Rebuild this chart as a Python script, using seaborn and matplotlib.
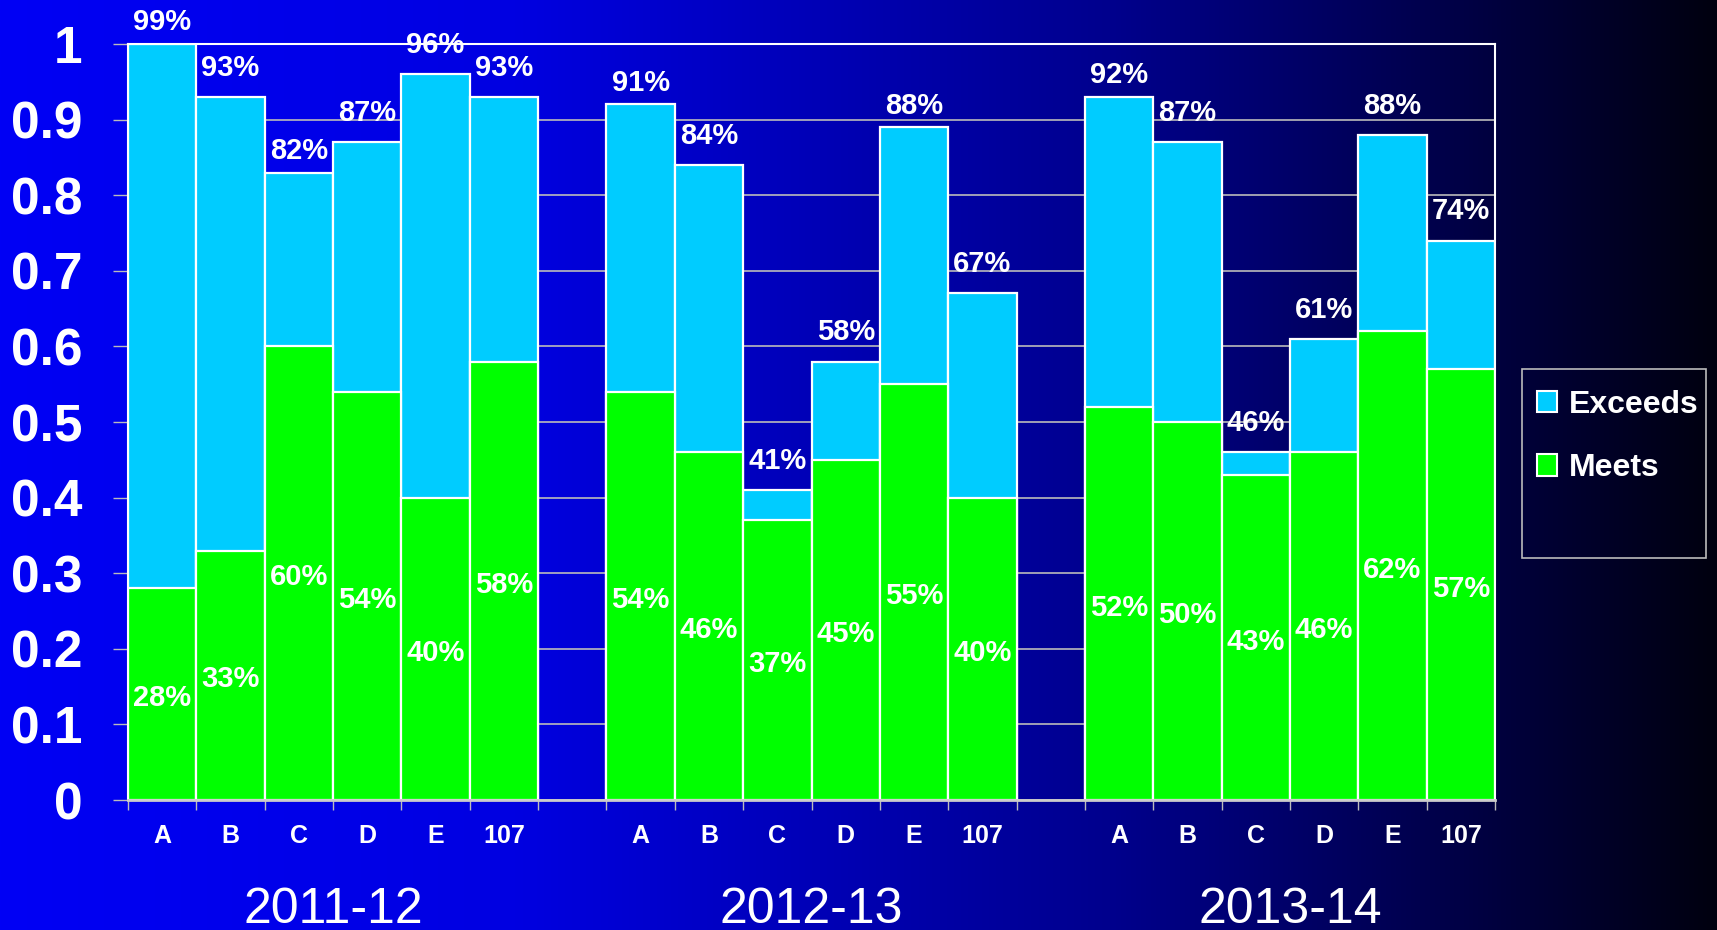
import numpy as np
import pandas as pd
import matplotlib
matplotlib.use("Agg")
import matplotlib.pyplot as plt
import seaborn as sns
from matplotlib import transforms
from matplotlib.patches import Patch, Rectangle

plt.rcParams["font.family"] = ["Liberation Sans", "DejaVu Sans"]

years = ["2011-12", "2012-13", "2013-14"]
schools = ["A", "B", "C", "D", "E", "107"]

meets_1112 = [0.28, 0.33, 0.60, 0.54, 0.40, 0.58]
exceeds_1112 = [0.72, 0.60, 0.23, 0.33, 0.56, 0.35]
totals_1112 = ["99%", "93%", "82%", "87%", "96%", "93%"]

meets_1213 = [0.54, 0.46, 0.37, 0.45, 0.55, 0.40]
exceeds_1213 = [0.38, 0.38, 0.04, 0.13, 0.34, 0.27]
totals_1213 = ["91%", "84%", "41%", "58%", "88%", "67%"]

meets_1314 = [0.52, 0.50, 0.43, 0.46, 0.62, 0.57]
exceeds_1314 = [0.41, 0.37, 0.03, 0.15, 0.26, 0.17]
totals_1314 = ["92%", "87%", "46%", "61%", "88%", "74%"]

CYAN = "#00CCFF"
GREEN = "#00FF00"
W, H = 1717, 930

# one empty slot between year groups
rows = []
groups = [(meets_1112, exceeds_1112, totals_1112),
          (meets_1213, exceeds_1213, totals_1213),
          (meets_1314, exceeds_1314, totals_1314)]
for g, (m, e, t) in enumerate(groups):
    for i, s in enumerate(schools):
        rows.append({"pos": g * 7 + i, "school": s, "year": years[g],
                     "meets": m[i], "total": m[i] + e[i], "total_label": t[i]})
df = pd.DataFrame(rows)

fig = plt.figure(figsize=(W / 100, H / 100), dpi=100)

# horizontal blue -> navy gradient background
bg = fig.add_axes([0, 0, 1, 1], zorder=-10)
xs = np.linspace(0, 1, 800)
grad = np.zeros((2, len(xs), 3))
grad[..., 2] = np.interp(xs, [0, 0.3, 0.65, 0.85, 1.0], [245, 225, 140, 70, 15]) / 255
bg.imshow(grad, aspect="auto", extent=[0, 1, 0, 1])
bg.axis("off")

ax = fig.add_axes([128 / W, 1 - 800 / H, (1495 - 128) / W, (800 - 44) / H])
ax.set_facecolor("none")

sns.barplot(data=df, x="pos", y="total", native_scale=True, width=1, color=CYAN,
            saturation=1, edgecolor="white", linewidth=1.6, errorbar=None, ax=ax)
sns.barplot(data=df, x="pos", y="meets", native_scale=True, width=1, color=GREEN,
            saturation=1, edgecolor="white", linewidth=1.6, errorbar=None, ax=ax)

ax.set_xlim(-0.5, 19.5)
ax.set_ylim(0, 1)
ax.set_xlabel("")
ax.set_ylabel("")

yt = np.round(np.arange(0, 1.01, 0.1), 1)
ax.set_yticks(yt)
ax.set_yticklabels([f"{v:g}" for v in yt], fontsize=37, fontweight="bold", color="white")
ax.tick_params(axis="y", length=11, width=1, color="#BBBBBB", pad=22)

ax.set_xticks(df["pos"])
ax.set_xticklabels(df["school"], fontsize=18, fontweight="bold", color="white")
ax.tick_params(axis="x", which="major", length=0, pad=17)
ax.set_xticks(np.arange(-0.5, 20, 1), minor=True)
ax.tick_params(axis="x", which="minor", length=7, width=1, color="#BBBBBB")

ax.yaxis.grid(True, color="#BBBBBB", lw=1.2)
ax.xaxis.grid(False)
ax.set_axisbelow(True)
for side in ["top", "right", "left"]:
    ax.spines[side].set_color("white")
    ax.spines[side].set_linewidth(1.5)
ax.spines["bottom"].set_color("#CCCCCC")
ax.spines["bottom"].set_linewidth(2)

for _, r in df.iterrows():
    # total labels sit above the rounded total, not the drawn bar top
    label_y = int(r["total_label"].rstrip("%")) / 100
    ax.annotate(r["total_label"], (r["pos"], label_y), xytext=(0, 21),
                textcoords="offset points", ha="center", va="center",
                fontsize=21, fontweight="bold", color="white")
    ax.annotate(f"{round(r['meets'] * 100)}%", (r["pos"], r["meets"] / 2),
                xytext=(0, -3), textcoords="offset points", ha="center",
                va="center", fontsize=21, fontweight="bold", color="white")

trans = transforms.blended_transform_factory(ax.transData, fig.transFigure)
for g, year in enumerate(years):
    ax.text(g * 7 + 2.5, 1 - 910 / H, year, transform=trans, ha="center",
            va="center", fontsize=36, color="white")

fig.patches.append(Rectangle((1522 / W, 1 - 558 / H), (1706 - 1522) / W, (558 - 369) / H,
                             transform=fig.transFigure, fill=False,
                             edgecolor="#BBBBBB", lw=1.2))
handles = [Patch(facecolor=CYAN, edgecolor="white", lw=1.5, label="Exceeds"),
           Patch(facecolor=GREEN, edgecolor="white", lw=1.5, label="Meets")]
fig.legend(handles=handles, loc="upper left", bbox_to_anchor=(1527 / W, 1 - 380 / H),
           frameon=False, prop={"size": 23, "weight": "bold"}, labelcolor="white",
           handlelength=0.65, handleheight=0.65, handletextpad=0.35, labelspacing=1.05,
           borderaxespad=0, borderpad=0.3)

fig.savefig("out.png", dpi=100)
plt.close(fig)
